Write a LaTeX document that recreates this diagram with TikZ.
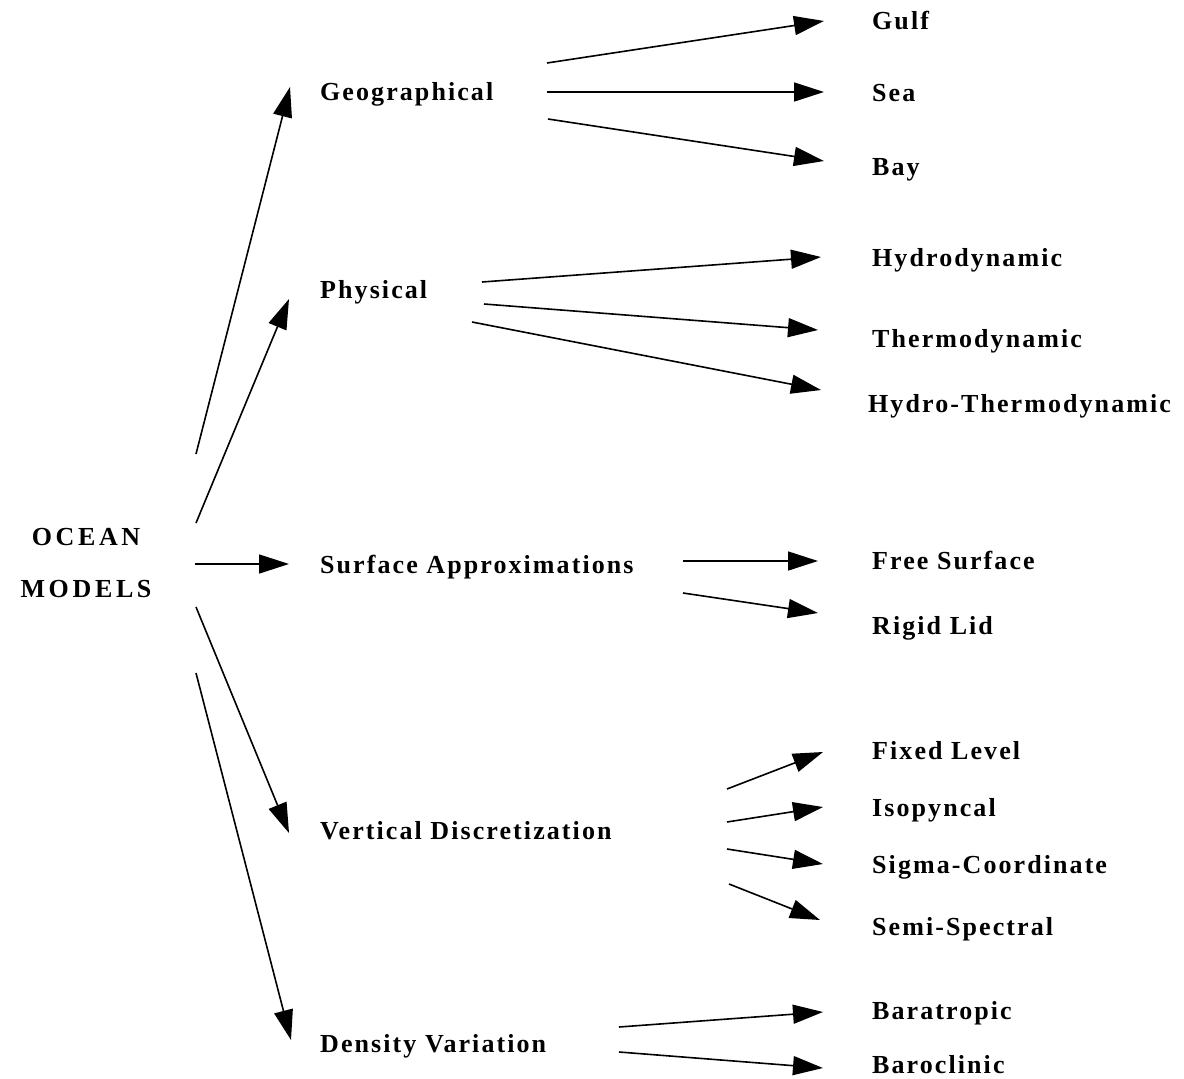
\documentclass[tikz,border=0pt]{standalone}
\usepackage{fontspec}
\setmainfont{Liberation Serif}
\newfontfamily\lblfont[LetterSpace=8]{Liberation Serif}
\newfontfamily\capfont[LetterSpace=14]{Liberation Serif}
\usetikzlibrary{arrows.meta}
\begin{document}
\begin{tikzpicture}[x=1pt,y=-1pt,
  lbl/.style={anchor=base west, inner sep=0pt, font=\lblfont\fontsize{26}{30}\selectfont\bfseries},
  arr/.style={line width=1.6pt, -{Triangle[length=30pt,width=19pt]}}]
\useasboundingbox (0,0) rectangle (1184,1079);
% root
\node[inner sep=0pt, align=center, font=\capfont\fontsize{26}{52}\selectfont\bfseries] (ocean) at (86,563) {OCEAN\\MODELS};
% level 1
\node[lbl] (geo) at (320,100) {Geographical};
\node[lbl] (phy) at (320,298) {Physical};
\node[lbl] (sur) at (320,573) {Surface Approximations};
\node[lbl] (ver) at (320,839) {Vertical Discretization};
\node[lbl] (den) at (320,1052) {Density Variation};
% level 2
\node[lbl] (gulf) at (872,29) {Gulf};
\node[lbl] (sea) at (872,101) {Sea};
\node[lbl] (bay) at (872,175) {Bay};
\node[lbl] (hyd) at (872,266) {Hydrodynamic};
\node[lbl] (the) at (872,347) {Thermodynamic};
\node[lbl] (ht) at (868,412) {Hydro-Thermodynamic};
\node[lbl] (free) at (872,569) {Free Surface};
\node[lbl] (rigid) at (872,634) {Rigid Lid};
\node[lbl] (fix) at (872,759) {Fixed Level};
\node[lbl] (iso) at (872,816) {Isopyncal};
\node[lbl] (sig) at (872,873) {Sigma-Coordinate};
\node[lbl] (semi) at (872,935) {Semi-Spectral};
\node[lbl] (bara) at (872,1019) {Baratropic};
\node[lbl] (baro) at (872,1073) {Baroclinic};
% connector end points
\coordinate (o1) at (196,454); \coordinate (geoin) at (290,87);
\coordinate (o2) at (196,523); \coordinate (phyin) at (289,299);
\coordinate (o3) at (195,564); \coordinate (surin) at (289,564);
\coordinate (o4) at (196,607); \coordinate (verin) at (289,833);
\coordinate (o5) at (196,673); \coordinate (denin) at (291,1040);
\coordinate (g1) at (547,63);  \coordinate (gulfin) at (824,21);
\coordinate (g2) at (547,92);  \coordinate (seain) at (824,92);
\coordinate (g3) at (548,119); \coordinate (bayin) at (824,161);
\coordinate (p1) at (482,282); \coordinate (hydin) at (821,257);
\coordinate (p2) at (484,304); \coordinate (thein) at (818,330);
\coordinate (p3) at (472,322); \coordinate (htin) at (821,390);
\coordinate (s1) at (683,561); \coordinate (freein) at (818,561);
\coordinate (s2) at (683,593); \coordinate (rigidin) at (818,613);
\coordinate (v1) at (727,789); \coordinate (fixin) at (823,752);
\coordinate (v2) at (727,822); \coordinate (isoin) at (823,807);
\coordinate (v3) at (727,849); \coordinate (sigin) at (823,864);
\coordinate (v4) at (729,884); \coordinate (semiin) at (820,920);
\coordinate (d1) at (619,1027); \coordinate (barain) at (823,1012);
\coordinate (d2) at (619,1052); \coordinate (baroin) at (823,1068);
% connectors
\draw[arr] (o1) -- (geoin);
\draw[arr] (o2) -- (phyin);
\draw[arr] (o3) -- (surin);
\draw[arr] (o4) -- (verin);
\draw[arr] (o5) -- (denin);
\draw[arr] (g1) -- (gulfin);
\draw[arr] (g2) -- (seain);
\draw[arr] (g3) -- (bayin);
\draw[arr] (p1) -- (hydin);
\draw[arr] (p2) -- (thein);
\draw[arr] (p3) -- (htin);
\draw[arr] (s1) -- (freein);
\draw[arr] (s2) -- (rigidin);
\draw[arr] (v1) -- (fixin);
\draw[arr] (v2) -- (isoin);
\draw[arr] (v3) -- (sigin);
\draw[arr] (v4) -- (semiin);
\draw[arr] (d1) -- (barain);
\draw[arr] (d2) -- (baroin);
\end{tikzpicture}
\end{document}
